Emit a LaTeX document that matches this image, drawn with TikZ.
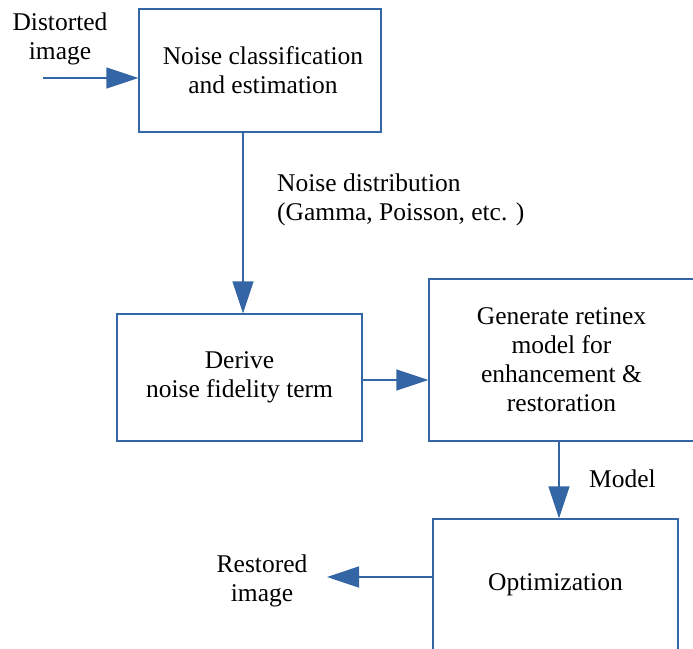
\documentclass[tikz,border=0pt]{standalone}
\usepackage{fontspec}
\setmainfont{Liberation Serif}
\usetikzlibrary{arrows.meta}
\definecolor{lineblue}{RGB}{52,101,164}
\begin{document}
\begin{tikzpicture}[x=1pt, y=-1pt,
    box/.style={draw=lineblue, line width=1.4pt, align=center, inner sep=0pt},
    lbl/.style={inner sep=0pt},
    flow/.style={draw=lineblue, line width=1.4pt, -{Triangle[length=32pt,width=21pt]}},
    every node/.style={font=\fontsize{25.5}{29}\selectfont}]
  \useasboundingbox (0,0) rectangle (693,648);
  % Blocks
  \node[box, minimum width=242pt, minimum height=123pt] (classify) at (260,70.5)
        {\hspace*{6pt}Noise classification\\\hspace*{6pt}and estimation};
  \node[box, minimum width=245pt, minimum height=127pt] (derive) at (239.5,377.5)
        {Derive\\noise fidelity term};
  \node[box, minimum width=265pt, minimum height=162pt] (retinex) at (561.5,360)
        {Generate retinex\\model for\\enhancement \&\\restoration};
  \node[box, minimum width=245pt, minimum height=132pt] (optim) at (555.5,585)
        {Optimization};
  % Side labels
  \node[lbl, align=center] (distorted) at (60,39) {Distorted\\image};
  \node[lbl, align=center] (restored) at (262,581) {Restored\\image};
  \node[lbl, align=left, anchor=west] (noisedist) at (277,200)
        {Noise distribution\\(Gamma, Poisson, etc. )};
  \node[lbl, anchor=west] (model) at (589,479) {Model};
  % Connectors
  \coordinate (in) at (43,78);
  \coordinate (out) at (327,577);
  \draw[flow] (in) -- (in -| classify.west);
  \draw[flow] ([xshift=3.5pt]derive.north |- classify.south) -- ([xshift=3.5pt]derive.north);
  \draw[flow] ([yshift=-2.5pt]derive.east) -- ([yshift=-2.5pt]derive.east -| retinex.west);
  \draw[flow] ([xshift=-2.5pt]retinex.south) -- ([xshift=-2.5pt]retinex.south |- optim.north);
  \draw[flow] (out -| optim.west) -- (out);
\end{tikzpicture}
\end{document}
